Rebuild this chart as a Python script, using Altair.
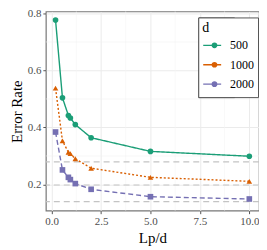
import altair as alt
import pandas as pd

x_vals = [0.2, 0.55, 0.85, 0.95, 1.2, 2.0, 5.0, 10.0]
err_500 = [0.777, 0.504, 0.442, 0.433, 0.41, 0.364, 0.316, 0.299]
err_1000 = [0.538, 0.353, 0.313, 0.308, 0.29, 0.257, 0.225, 0.211]
err_2000 = [0.384, 0.251, 0.225, 0.217, 0.203, 0.183, 0.157, 0.149]
groups = ["500", "1000", "2000"]
colors = ["#1b9e77", "#d95f02", "#7570b3"]
shapes = ["circle", "triangle-up", "square"]
dashes = [[1, 0], [2, 2], [5, 3]]
hlines = [0.279, 0.198, 0.14]
minor_x = [1.25, 3.75, 6.25, 8.75]
minor_y = [0.3, 0.5, 0.7]
x_ticks = [0, 2.5, 5, 7.5, 10]
y_ticks = [0.2, 0.4, 0.6, 0.8]

rows = []
for g, ys in zip(groups, [err_500, err_1000, err_2000]):
    for xv, yv in zip(x_vals, ys):
        rows.append({"Lp/d": xv, "Error Rate": yv, "d": g, "d2": g})
df = pd.DataFrame(rows)

FONT = "Liberation Serif"
xs = alt.Scale(domain=[-0.29, 10.49], nice=False, zero=False)
ys_ = alt.Scale(domain=[0.108, 0.807], nice=False, zero=False)

axis_common = dict(grid=True, labelFont=FONT, titleFont=FONT, labelFontSize=11,
                   titleFontSize=15, labelColor="#4d4d4d", titleColor="#000000",
                   titleFontWeight="normal", gridColor="#ebebeb", gridWidth=1,
                   domain=False, tickColor="#555555", tickSize=3, labelPadding=2,
                   format=".1f")
xaxis = alt.Axis(values=x_ticks, title="Lp/d", titlePadding=4, **axis_common)
yaxis = alt.Axis(values=y_ticks, title="Error Rate", titlePadding=3, **axis_common)

LX, LY = 153, 6
legend_common = dict(orient="none", legendY=LY, padding=4, titleFont=FONT,
                     labelFont=FONT, titleFontSize=14, labelFontSize=12,
                     titleFontWeight="normal", titlePadding=1, clipHeight=18,
                     rowPadding=1.5, labelOffset=8, labelColor="#000000")
line_legend = dict(title="d", legendX=LX, symbolType="stroke", symbolSize=324,
                   symbolStrokeWidth=1.4, strokeColor="#555555", fillColor="white",
                   **legend_common)
point_legend = dict(title=" ", legendX=LX + 6.3, symbolSize=32, labelExpr="''",
                    symbolOpacity=1, **legend_common)

minor_v = alt.Chart(pd.DataFrame({"x": minor_x})).mark_rule(
    color="#f3f3f3", strokeWidth=0.6
).encode(x=alt.X("x:Q", scale=xs, axis=xaxis))
minor_h = alt.Chart(pd.DataFrame({"y": minor_y})).mark_rule(
    color="#f3f3f3", strokeWidth=0.6
).encode(y=alt.Y("y:Q", scale=ys_, axis=yaxis))
hl = alt.Chart(pd.DataFrame({"y": hlines})).mark_rule(
    color="#c4c4c4", strokeWidth=1.2, strokeDash=[6, 4]
).encode(y=alt.Y("y:Q", scale=ys_, axis=yaxis))

lines = alt.Chart(df).mark_line(strokeWidth=1.4).encode(
    x=alt.X("Lp/d:Q", scale=xs, axis=xaxis),
    y=alt.Y("Error Rate:Q", scale=ys_, axis=yaxis),
    color=alt.Color("d:N", scale=alt.Scale(domain=groups, range=colors),
                    legend=alt.Legend(**line_legend)),
    strokeDash=alt.StrokeDash("d:N", scale=alt.Scale(domain=groups, range=dashes),
                              legend=alt.Legend(**line_legend)),
    detail="d:N",
)
pts = alt.Chart(df).mark_point(filled=True, size=32, opacity=1).encode(
    x=alt.X("Lp/d:Q", scale=xs, axis=xaxis),
    y=alt.Y("Error Rate:Q", scale=ys_, axis=yaxis),
    color=alt.Color("d2:N", scale=alt.Scale(domain=groups, range=colors),
                    legend=alt.Legend(**point_legend)),
    shape=alt.Shape("d2:N", scale=alt.Scale(domain=groups, range=shapes),
                    legend=alt.Legend(**point_legend)),
)

chart = alt.layer(minor_v, minor_h, hl, lines, pts).resolve_scale(
    color="independent"
).properties(
    width=214, height=200,
    autosize=alt.AutoSizeParams(type="none"),
    padding={"left": 38, "top": 3, "right": 0, "bottom": 38},
).configure_view(
    stroke="#777777", strokeWidth=1.2
)

chart.save("out.html", embed_options={"renderer": "svg", "actions": False})
